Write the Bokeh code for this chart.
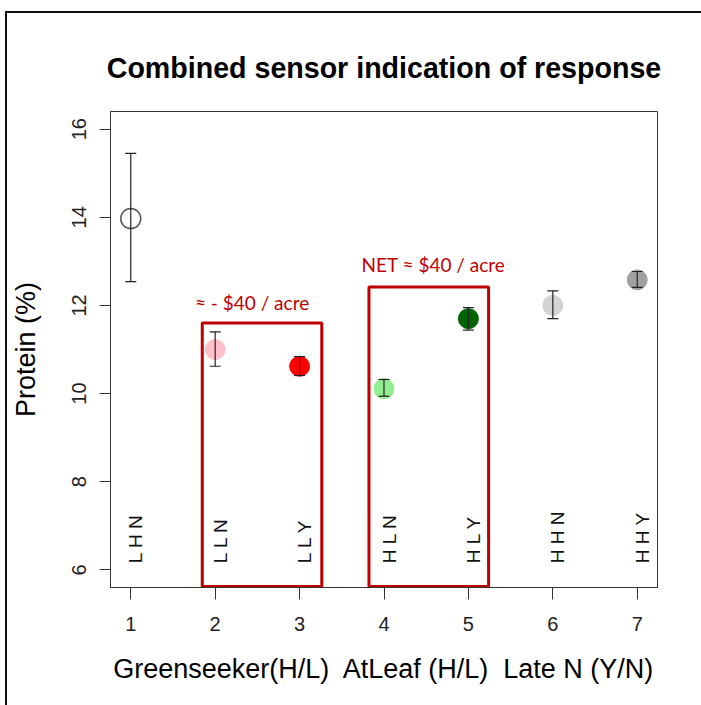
import math
from bokeh.plotting import figure
from bokeh.models import ColumnDataSource, Range1d, FixedTicker, Whisker, TeeHead, LinearAxis
from bokeh.core.properties import value
from bokeh.embed import file_html
from bokeh.resources import INLINE

# ---- data ----
treatment = [1, 2, 3, 4, 5, 6, 7]
protein = [13.97, 11.0, 10.62, 10.11, 11.70, 12.0, 12.58]
err_upper = [15.45, 11.40, 10.84, 10.32, 11.95, 12.33, 12.77]
err_lower = [12.54, 10.62, 10.41, 9.94, 11.44, 11.70, 12.41]
point_colors = ["#FFFFFF", "#FFC0CB", "#FF0000", "#90EE90", "#006400", "#D3D3D3", "#A0A0A0"]
code_labels = ["L H N", "L L N", "L L Y", "H L N", "H L Y", "H H N", "H H Y"]
x_ticks = [1, 2, 3, 4, 5, 6, 7]
y_ticks = [6, 8, 10, 12, 14, 16]

# highlight boxes (data coordinates) and their notes
box_left = [1.847, 3.822]
box_right = [3.263, 5.239]
box_top = [11.60, 12.42]
box_bottom = [5.62, 5.62]
note_x = [2.437, 4.586]
note_y = [12.07, 12.92]
note_text = ["\u2248 - $40 / acre", "NET \u2248 $40 / acre"]
label_y = 6.15

title_text = "Combined sensor indication of response"

FONT = "Liberation Sans"
NB = "\u00a0"

p = figure(
    output_backend="svg",
    toolbar_location=None,
    frame_width=547,
    frame_height=476,
    min_border_left=98,
    min_border_right=47,
    min_border_top=98,
    min_border_bottom=119,
    x_range=Range1d(0.76, 7.24),
    y_range=Range1d(5.6, 16.4),
)
p.styles = {"border-top": "2px solid #111111", "border-left": "2px solid #111111",
            "margin-top": "11px", "margin-left": "5px"}

p.background_fill_color = "white"
p.border_fill_color = "white"
p.outline_line_color = "#333333"
p.outline_line_width = 1
p.xgrid.grid_line_color = None
p.ygrid.grid_line_color = None

# title drawn as the label of a blank axis above the frame
title_axis = LinearAxis(ticker=FixedTicker(ticks=[]), axis_line_color=None,
                        major_tick_line_color=None, minor_tick_line_color=None,
                        axis_label=title_text, axis_label_text_font=FONT,
                        axis_label_text_font_size="28.6px", axis_label_text_font_style="bold",
                        axis_label_text_color="#000000", axis_label_standoff=28)
p.add_layout(title_axis, "above")

# x axis
xa = p.below[0]
xa.ticker = FixedTicker(ticks=x_ticks)
xa.minor_tick_line_color = None
xa.major_tick_in = 0
xa.major_tick_out = 12
xa.major_tick_line_color = "#333333"
xa.axis_line_color = "#333333"
xa.major_label_text_font = FONT
xa.major_label_text_font_size = "20px"
xa.major_label_text_color = "#222222"
xa.major_label_standoff = 17
xa.axis_label = "Greenseeker(H/L)" + NB + " AtLeaf (H/L)" + NB + " Late N (Y/N)"
xa.axis_label_text_font = FONT
xa.axis_label_text_font_size = "27px"
xa.axis_label_text_font_style = "normal"
xa.axis_label_text_color = "#000000"
xa.axis_label_standoff = 20

# y axis
ya = p.left[0]
ya.ticker = FixedTicker(ticks=y_ticks)
ya.minor_tick_line_color = None
ya.major_tick_in = 0
ya.major_tick_out = 11
ya.major_tick_line_color = "#333333"
ya.axis_line_color = "#333333"
ya.major_label_orientation = "vertical"
ya.major_label_text_font = FONT
ya.major_label_text_font_size = "20px"
ya.major_label_text_color = "#222222"
ya.major_label_standoff = 13
ya.axis_label = "Protein (%)"
ya.axis_label_text_font = FONT
ya.axis_label_text_font_size = "27px"
ya.axis_label_text_font_style = "normal"
ya.axis_label_text_color = "#000000"
ya.axis_label_standoff = 29

# highlight boxes
p.quad(left=box_left, right=box_right, top=box_top, bottom=box_bottom,
       fill_alpha=0, line_color="#C00000", line_width=3)

# notes
p.text(x=note_x, y=note_y, text=note_text, text_align="center", text_baseline="middle",
       text_font=value("Lato"), text_font_size="19px", text_color="#C00000")

# codes
p.text(x=treatment, y=[label_y] * len(treatment), text=code_labels, angle=math.pi / 2,
       text_align="left", text_baseline="middle", x_offset=5,
       text_font=value(FONT), text_font_size="19px", text_color="#111111")

# points
src = ColumnDataSource(dict(x=treatment, y=protein, up=err_upper, lo=err_lower))
filled = ColumnDataSource(dict(x=treatment[1:], y=protein[1:], c=point_colors[1:]))
p.scatter(x="x", y="y", source=filled, size=20, fill_color="c", line_color="c")
p.scatter(x=treatment[:1], y=protein[:1], size=20, fill_color=None, line_color="#555555", line_width=1.5)

w = Whisker(source=src, base="x", upper="up", lower="lo", dimension="height",
            line_color="#222222", line_width=1.2, level="overlay",
            upper_head=TeeHead(size=11, line_color="#222222", line_width=1.2),
            lower_head=TeeHead(size=11, line_color="#222222", line_width=1.2))
p.add_layout(w)

open("out.html", "w").write(file_html(p, INLINE))
